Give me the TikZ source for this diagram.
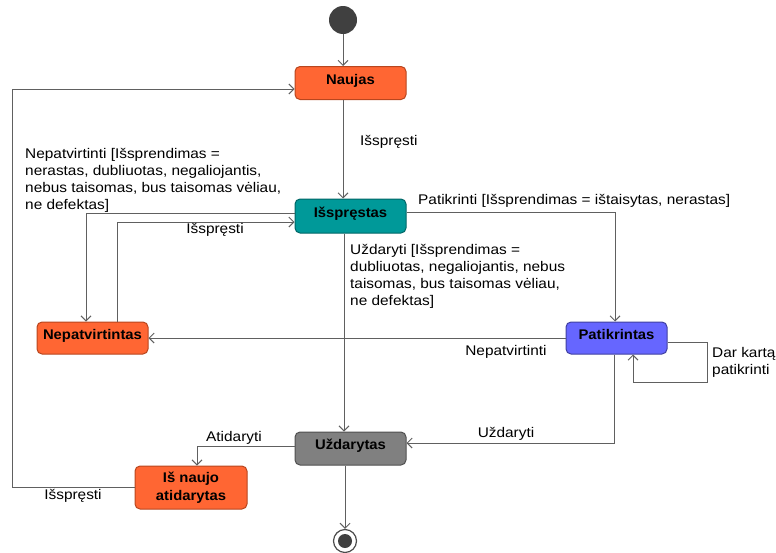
\documentclass[tikz,border=0pt]{standalone}
\usepackage{fontspec}
\setmainfont{Liberation Sans}
\newfontfamily\lblfont{Liberation Sans}[FakeStretch=1.1]
\newfontfamily\statefont{Liberation Sans}[FakeStretch=1.06]
\usetikzlibrary{arrows.meta}
\definecolor{orangeS}{HTML}{FF6633}
\definecolor{orangeB}{HTML}{B8461E}
\definecolor{tealS}{HTML}{009999}
\definecolor{tealB}{HTML}{006666}
\definecolor{blueS}{HTML}{6666FF}
\definecolor{blueB}{HTML}{4040A0}
\definecolor{grayS}{HTML}{808080}
\definecolor{grayB}{HTML}{505050}
\definecolor{lineC}{HTML}{606060}
\tikzset{
  state/.style={draw, line width=1pt, rounded corners=5pt, font=\statefont\fontsize{14}{16}\selectfont\bfseries,
    inner sep=0pt, text height=10pt, text depth=8pt, align=center},
  conn/.style={draw=lineC, line width=1pt, -{Straight Barb[length=5pt,width=10pt]}},
  lbl/.style={font=\lblfont\fontsize{14}{17}\selectfont, inner sep=0pt, align=left}
}
\begin{document}
\begin{tikzpicture}[x=1pt,y=-1pt]
\useasboundingbox (0,0) rectangle (776,552);
\node[circle, fill=black!75, minimum size=28pt, inner sep=0pt] (init) at (343,20) {};
\node[state, fill=orangeS, draw=orangeB, minimum width=111pt, minimum height=33pt] (naujas) at (350.5,83) {Naujas};
\node[state, fill=tealS, draw=tealB, minimum width=111pt, minimum height=34pt] (issprestas) at (350.5,216) {Išspręstas};
\node[state, fill=orangeS, draw=orangeB, minimum width=111pt, minimum height=32pt] (nepat) at (92.5,338) {Nepatvirtintas};
\node[state, fill=blueS, draw=blueB, minimum width=101pt, minimum height=32pt] (patik) at (616.5,338) {Patikrintas};
\node[state, fill=grayS, draw=grayB, minimum width=111pt, minimum height=33pt] (uzd) at (350.5,448.5) {Uždarytas};
\node[state, fill=orangeS, draw=orangeB, minimum width=112pt, minimum height=43pt] (isnaujo) at (191,487.5) {};
\node[font=\statefont\fontsize{14}{18}\selectfont\bfseries, align=center, inner sep=0pt] (isnaujoT) at (isnaujo.center) {Iš naujo\\atidarytas};
\node[circle, draw=black!70, line width=1.2pt, fill=white, minimum size=23pt, inner sep=0pt] (final) at (345,541) {};
\node[circle, fill=black!75, minimum size=14pt, inner sep=0pt] (finalin) at (final.center) {};

\coordinate (a1) at (343,0);
\coordinate (a2) at (344,0);
\draw[conn] (init.south) -- (init.south |- naujas.north);
\draw[conn] (naujas.south -| a1) -- (issprestas.north -| a1);
\node[lbl, anchor=west] (l1) at (360,142) {Išspręsti};

% Issprestas -> Nepatvirtintas
\coordinate (b1) at (86,213);
\draw[conn] (issprestas.west |- b1) -- (b1) -- (b1 |- nepat.north);
\node[lbl, anchor=north west] (l2) at (25,148) {Nepatvirtinti [Išsprendimas =\\nerastas, dubliuotas, negaliojantis,\\nebus taisomas, bus taisomas vėliau,\\ne defektas]};

% Nepatvirtintas -> Issprestas
\coordinate (b2) at (117,222);
\draw[conn] (b2 |- nepat.north) -- (b2) -- (issprestas.west |- b2);
\node[lbl] (l3) at (215,230) {Išspręsti};

% Issprestas -> Patikrintas
\coordinate (b3) at (615,212);
\draw[conn] (issprestas.east |- b3) -- (b3) -- (b3 |- patik.north);
\node[lbl, anchor=west] (l4) at (418,201) {Patikrinti [Išsprendimas = ištaisytas, nerastas]};

% Issprestas -> Uzdarytas
\draw[conn] (issprestas.south -| a2) -- (uzd.north -| a2);
\node[lbl, anchor=north west] (l5) at (350,244) {Uždaryti [Išsprendimas =\\dubliuotas, negaliojantis, nebus\\taisomas, bus taisomas vėliau,\\ne defektas]};

% Patikrintas -> Nepatvirtintas
\draw[conn] (patik.west |- nepat.east) -- (nepat.east);
\node[lbl] (l6) at (506,352) {Nepatvirtinti};

% Self loop
\coordinate (c1) at (707,342);
\coordinate (c2) at (633,382);
\draw[conn] (patik.east |- c1) -- (c1) -- (c1 |- c2) -- (c2) -- (c2 |- patik.south);
\node[lbl, anchor=west] (l7) at (712,362) {Dar kartą\\patikrinti};

% Patikrintas -> Uzdarytas
\coordinate (c3) at (614,443);
\draw[conn] (c3 |- patik.south) -- (c3) -- (uzd.east |- c3);
\node[lbl] (l8) at (506,434) {Uždaryti};

% Uzdarytas -> Is naujo
\coordinate (c4) at (197,446);
\draw[conn] (uzd.west |- c4) -- (c4) -- (c4 |- isnaujo.north);
\node[lbl] (l9) at (234,438) {Atidaryti};

% Is naujo -> Naujas
\coordinate (c5) at (12,487);
\coordinate (c6) at (12,89);
\draw[conn] (isnaujo.west |- c5) -- (c5) -- (c6) -- (naujas.west |- c6);
\node[lbl] (l10) at (73,496) {Išspręsti};

% Uzdarytas -> final
\coordinate (a3) at (345,0);
\draw[conn] (uzd.south -| a3) -- (final.north);
\end{tikzpicture}
\end{document}
